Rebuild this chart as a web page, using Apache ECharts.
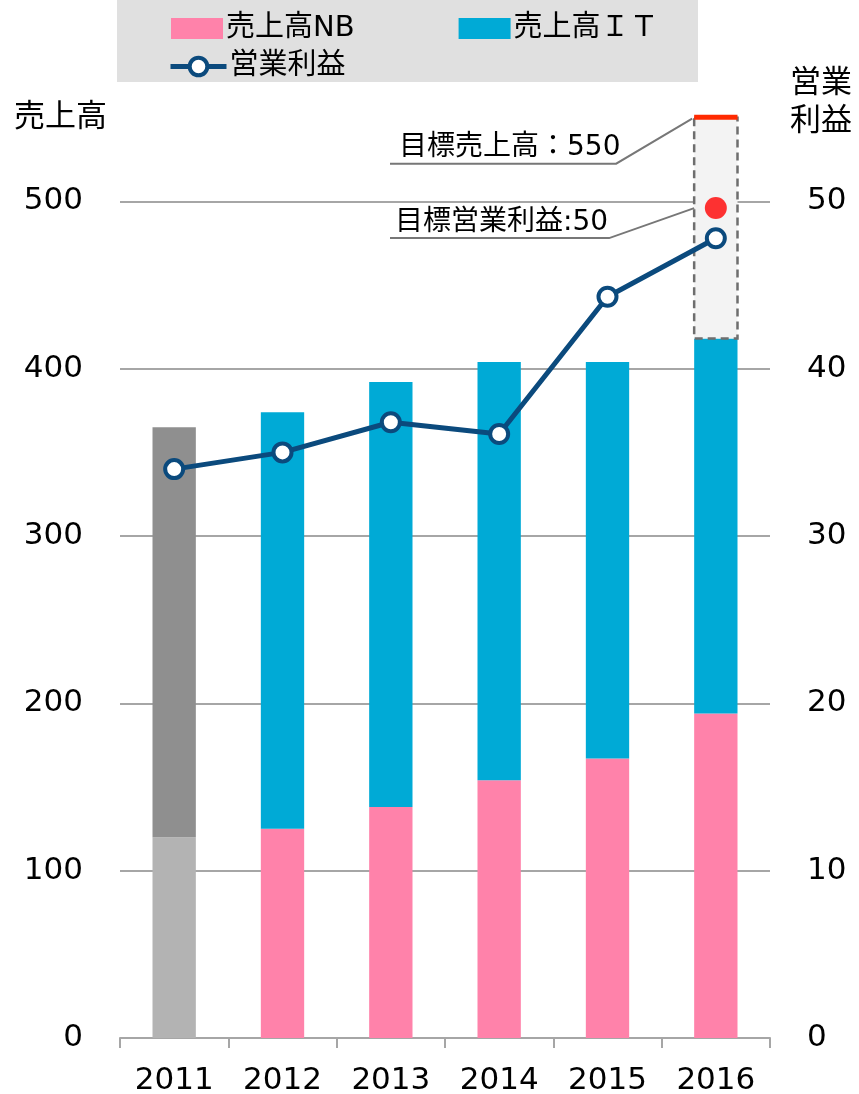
<!DOCTYPE html>
<html>
<head>
<meta charset="utf-8">
<script src="https://cdn.jsdelivr.net/npm/echarts@6/dist/echarts.min.js"></script>
<style>
html,body{margin:0;padding:0;background:#fff;}
#chart{width:859px;height:1094px;}
</style>
</head>
<body>
<div id="chart"></div>
<script>
// ---- data ----
const years = ['2011', '2012', '2013', '2014', '2015', '2016'];
const salesNB = [120, 125, 138, 154, 167, 194];
const salesIT = [245, 249, 254, 250, 237, 224];
const profit = [34.0, 35.0, 36.8, 36.1, 44.3, 47.8];
const salesTicks = [0, 100, 200, 300, 400, 500];
const profitTicks = [0, 10, 20, 30, 40, 50];
const targetSales = 550;
const targetProfit = 49.6; // drawn position of the target dot
const targetSalesLabel = '目標売上高：550';
const targetProfitLabel = '目標営業利益:50';
const nameNB = '売上高NB';
const nameIT = '売上高ＩＴ';
const nameProfit = '営業利益';

const FONT = "'DejaVu Sans', 'Noto Sans CJK JP', sans-serif";
const C_NB = '#ff82aa';
const C_IT = '#00aad6';
const C_LINE = '#0b4a7d';
const C_GRID = '#a6a6a6';
const AX_FS = 31;

const chart = echarts.init(document.getElementById('chart'), null, {renderer: 'canvas'});
const lastIdx = years.length - 1;
const total2016 = salesNB[lastIdx] + salesIT[lastIdx];

const nbData = salesNB.map((v, i) => i === 0 ? {value: v, itemStyle: {color: '#b3b3b3'}} : v);
const itData = salesIT.map((v, i) => i === 0 ? {value: v, itemStyle: {color: '#8f8f8f'}} : v);

const option = {
  animation: false,
  textStyle: {fontFamily: FONT},
  title: [
    {text: '売上高', left: 9, top: 97, textStyle: {fontFamily: FONT, fontSize: 31, fontWeight: 'normal', color: '#000'}},
    {text: '営業\n利益', right: 2, top: 60, textStyle: {fontFamily: FONT, fontSize: 31, fontWeight: 'normal', color: '#000', lineHeight: 38}}
  ],
  legend: [
    {
      data: [nameNB, nameIT],
      left: 166, top: 9,
      itemWidth: 52, itemHeight: 21, itemGap: 104,
      icon: 'rect',
      textStyle: {fontFamily: FONT, fontSize: 29, color: '#000', padding: [0, 0, 0, -2]},
      selectedMode: false
    },
    {
      data: [nameProfit],
      left: 163, top: 47,
      itemWidth: 56, itemHeight: 22,
      lineStyle: {width: 5},
      itemStyle: {borderWidth: 4},
      textStyle: {fontFamily: FONT, fontSize: 29, color: '#000', padding: [0, 0, 0, -2]},
      selectedMode: false
    }
  ],
  graphic: [
    {type: 'rect', left: 117, top: 0, z: -10, shape: {width: 581, height: 82}, style: {fill: '#e0e0e0'}}
  ],
  grid: {left: 120, right: 89, top: 101, bottom: 56, containLabel: false, outerBoundsMode: 'none'},
  xAxis: {
    type: 'category',
    data: years,
    boundaryGap: true,
    axisLine: {lineStyle: {color: C_GRID, width: 2}},
    axisTick: {show: true, length: 10, lineStyle: {color: C_GRID, width: 2}},
    axisLabel: {fontFamily: FONT, fontSize: AX_FS, color: '#000', margin: 27}
  },
  yAxis: [
    {
      type: 'value', min: salesTicks[0], max: 560, interval: salesTicks[1] - salesTicks[0],
      axisLine: {show: false}, axisTick: {show: false},
      splitLine: {show: true, showMaxLine: false, lineStyle: {color: C_GRID, width: 2}},
      axisLabel: {fontFamily: FONT, fontSize: AX_FS, color: '#000', margin: 37, showMaxLabel: false,
        formatter: v => salesTicks.includes(v) ? String(v) : ''}
    },
    {
      type: 'value', min: profitTicks[0], max: 56, interval: profitTicks[1] - profitTicks[0],
      axisLine: {show: false}, axisTick: {show: false},
      splitLine: {show: false},
      axisLabel: {fontFamily: FONT, fontSize: AX_FS, color: '#000', margin: 37, showMaxLabel: false,
        formatter: v => profitTicks.includes(v) ? String(v) : ''}
    }
  ],
  series: [
    {name: nameNB, type: 'bar', stack: 'sales', data: nbData, barWidth: '40%', itemStyle: {color: C_NB}, z: 2},
    {name: nameIT, type: 'bar', stack: 'sales', data: itData, barWidth: '40%', itemStyle: {color: C_IT}, z: 2},
    {
      name: 'target', type: 'custom', z: 3,
      data: [[lastIdx, total2016, targetSales]],
      encode: {x: 0, y: [1, 2]},
      renderItem: function (params, api) {
        const top = api.coord([api.value(0), api.value(2)]);
        const base = api.coord([api.value(0), api.value(1)]);
        const w = api.size([1, 0])[0] * 0.4;
        const x0 = top[0] - w / 2;
        return {
          type: 'group',
          children: [
            {type: 'rect', shape: {x: x0, y: top[1], width: w, height: base[1] - top[1]},
              style: {fill: '#f3f3f3', stroke: '#6e6e6e', lineWidth: 2.5, lineDash: [8, 5]}},
            {type: 'line', shape: {x1: x0, y1: top[1] - 0.5, x2: x0 + w, y2: top[1] - 0.5},
              style: {stroke: '#ff2a00', lineWidth: 5}}
          ]
        };
      }
    },
    {
      name: nameProfit, type: 'line', yAxisIndex: 1, data: profit, z: 6,
      symbol: 'circle', symbolSize: 18,
      lineStyle: {color: C_LINE, width: 5},
      itemStyle: {color: '#fff', borderColor: C_LINE, borderWidth: 4}
    },
    {
      name: 'targetProfit', type: 'scatter', yAxisIndex: 1, z: 5,
      data: [[lastIdx, targetProfit]],
      symbolSize: 22, itemStyle: {color: '#ff0000'}
    }
  ]
};
chart.setOption(option);

// annotations anchored on data positions
const p550 = chart.convertToPixel({xAxisIndex: 0, yAxisIndex: 0}, [lastIdx, targetSales]);
const pProfit = chart.convertToPixel({xAxisIndex: 0, yAxisIndex: 1}, [lastIdx, targetProfit]);
const bandW = chart.getModel().getComponent('xAxis', 0).axis.getBandWidth();
const barLeft = p550[0] - bandW * 0.2;
const lineStart = 390;
const LS = {stroke: '#777777', lineWidth: 2};
const g = option.graphic.slice();
// sales target
const sY = p550[1] + 46, sX = barLeft - 78;
g.push({type: 'polyline', z: 10, shape: {points: [[lineStart, sY], [sX, sY], [barLeft - 2, p550[1] + 1]]}, style: LS});
g.push({type: 'text', z: 10, x: 399, y: sY - 2, style: {text: targetSalesLabel, font: "28px " + FONT, fill: '#000', textVerticalAlign: 'bottom'}});
// profit target
const pY = pProfit[1] + 30, pX = barLeft - 85;
g.push({type: 'polyline', z: 10, shape: {points: [[lineStart, pY], [pX, pY], [barLeft, pProfit[1]]]}, style: LS});
g.push({type: 'text', z: 10, x: 395, y: pY - 1, style: {text: targetProfitLabel, font: "28px " + FONT, fill: '#000', textVerticalAlign: 'bottom'}});
chart.setOption({graphic: g});
</script>
</body>
</html>
